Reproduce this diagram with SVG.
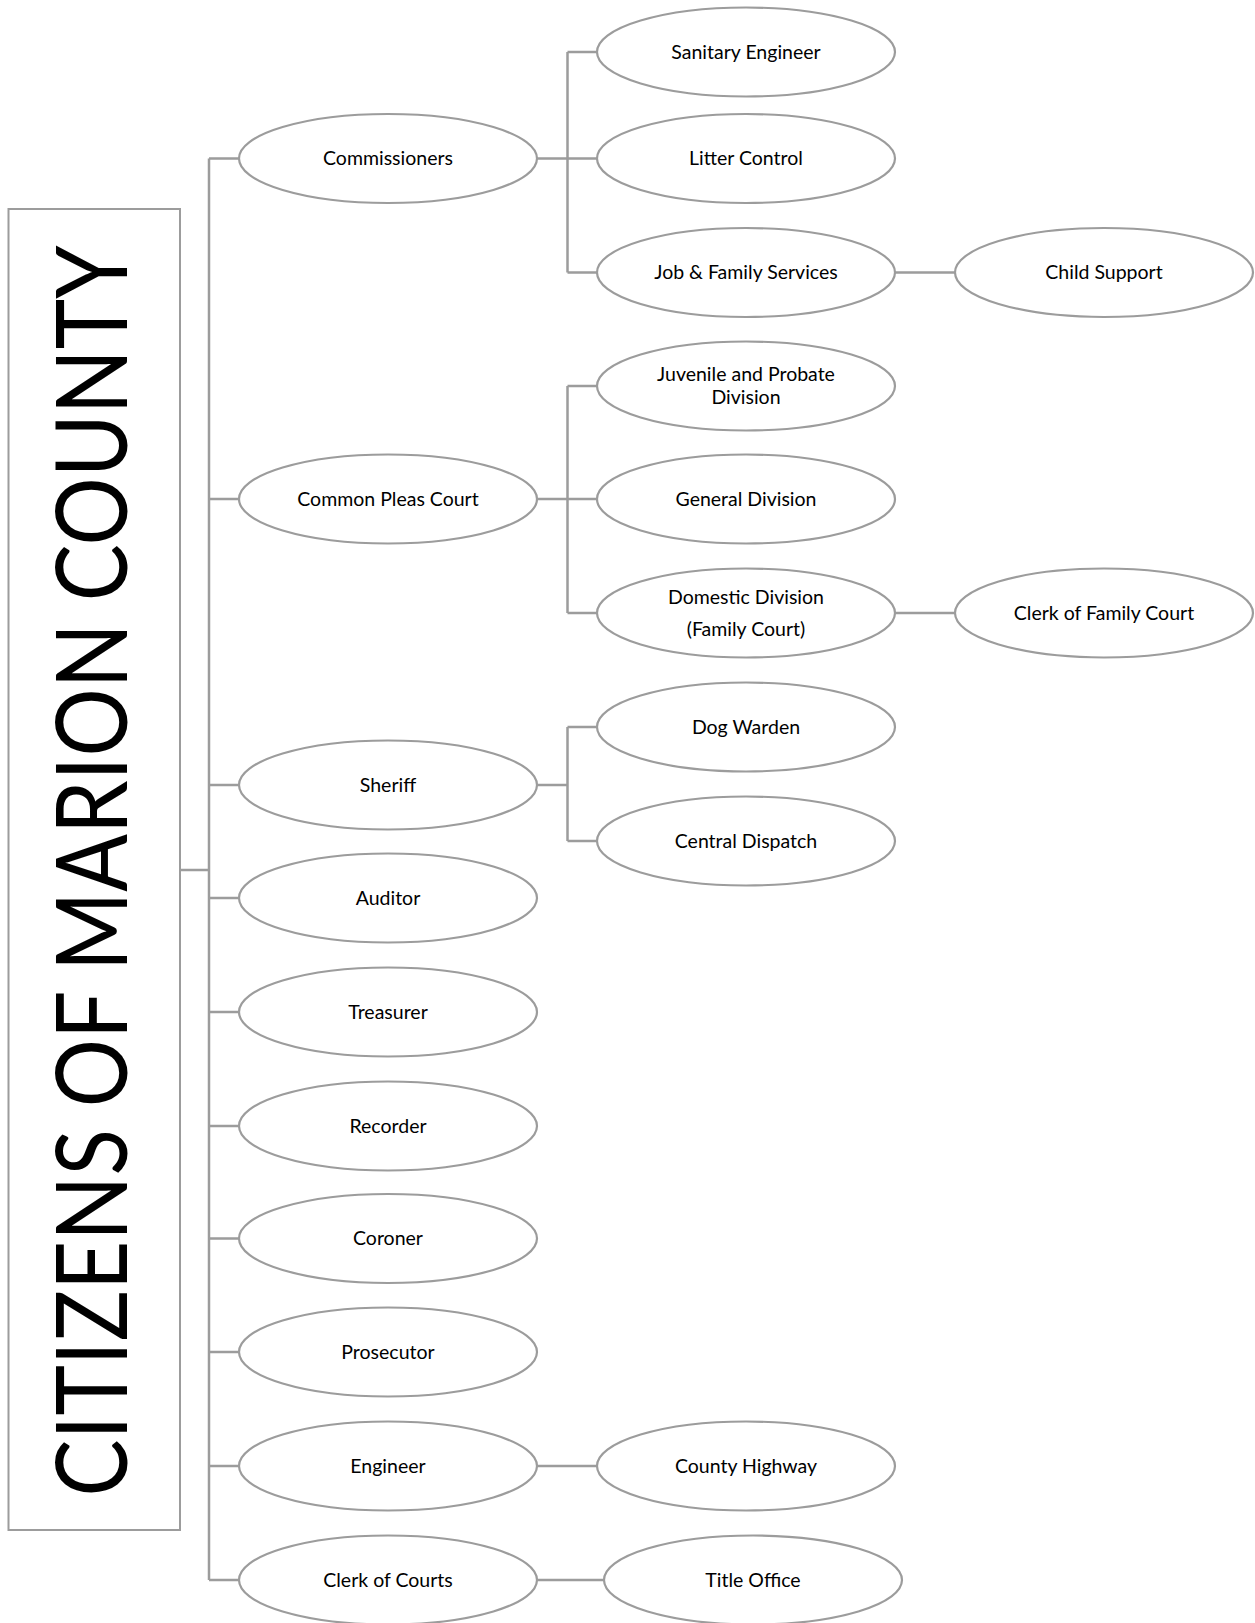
<svg xmlns="http://www.w3.org/2000/svg" width="1255" height="1623" viewBox="0 0 1255 1623">
<style>
.n ellipse{fill:#fff;stroke:#9c9c9c;stroke-width:2.2}
.n text{font-family:Lato,"Open Sans",sans-serif;font-size:19.5px;fill:#000;text-anchor:middle}
.c{fill:none;stroke:#9c9c9c;stroke-width:2.5}
</style>
<rect width="1255" height="1623" fill="#fff"/>
<g id="connectors" class="c">
<path d="M180,870 H209 M209,158.5 V1580"/>
<path d="M209,158.5 H239 M209,499 H239 M209,785 H239 M209,898 H239 M209,1012 H239 M209,1126 H239 M209,1238.5 H239 M209,1352 H239 M209,1466 H239 M209,1580 H239"/>
<path d="M537,158.5 H597 M567.5,52 V272.5 M567.5,52 H597 M567.5,272.5 H597"/>
<path d="M537,499 H597 M567.5,386 V613 M567.5,386 H597 M567.5,613 H597"/>
<path d="M537,785 H567.5 M567.5,727 V841 M567.5,727 H597 M567.5,841 H597"/>
<path d="M895,272.5 H955 M895,613 H955"/>
<path d="M537,1466 H597 M537,1580 H604"/>
</g>
<g id="citizens">
<rect x="8.5" y="209" width="171.5" height="1321" fill="#fff" stroke="#9c9c9c" stroke-width="2"/>
<text x="127" y="871" transform="rotate(-90 127 871)" font-family="Lato, Open Sans, sans-serif" font-size="98" text-anchor="middle" textLength="1251" lengthAdjust="spacingAndGlyphs">CITIZENS OF MARION COUNTY</text>
</g>
<g id="commissioners" class="n"><ellipse cx="388" cy="158.5" rx="149" ry="44.5"/><text x="388" y="158.5" dy="0.35em">Commissioners</text></g>
<g id="common-pleas" class="n"><ellipse cx="388" cy="499" rx="149" ry="44.5"/><text x="388" y="499" dy="0.35em">Common Pleas Court</text></g>
<g id="sheriff" class="n"><ellipse cx="388" cy="785" rx="149" ry="44.5"/><text x="388" y="785" dy="0.35em">Sheriff</text></g>
<g id="auditor" class="n"><ellipse cx="388" cy="898" rx="149" ry="44.5"/><text x="388" y="898" dy="0.35em">Auditor</text></g>
<g id="treasurer" class="n"><ellipse cx="388" cy="1012" rx="149" ry="44.5"/><text x="388" y="1012" dy="0.35em">Treasurer</text></g>
<g id="recorder" class="n"><ellipse cx="388" cy="1126" rx="149" ry="44.5"/><text x="388" y="1126" dy="0.35em">Recorder</text></g>
<g id="coroner" class="n"><ellipse cx="388" cy="1238.5" rx="149" ry="44.5"/><text x="388" y="1238.5" dy="0.35em">Coroner</text></g>
<g id="prosecutor" class="n"><ellipse cx="388" cy="1352" rx="149" ry="44.5"/><text x="388" y="1352" dy="0.35em">Prosecutor</text></g>
<g id="engineer" class="n"><ellipse cx="388" cy="1466" rx="149" ry="44.5"/><text x="388" y="1466" dy="0.35em">Engineer</text></g>
<g id="clerk-of-courts" class="n"><ellipse cx="388" cy="1580" rx="149" ry="44.5"/><text x="388" y="1580" dy="0.35em">Clerk of Courts</text></g>
<g id="sanitary-engineer" class="n"><ellipse cx="746" cy="52" rx="149" ry="44.5"/><text x="746" y="52" dy="0.35em">Sanitary Engineer</text></g>
<g id="litter-control" class="n"><ellipse cx="746" cy="158.5" rx="149" ry="44.5"/><text x="746" y="158.5" dy="0.35em">Litter Control</text></g>
<g id="job-family" class="n"><ellipse cx="746" cy="272.5" rx="149" ry="44.5"/><text x="746" y="272.5" dy="0.35em">Job &amp; Family Services</text></g>
<g id="child-support" class="n"><ellipse cx="1104" cy="272.5" rx="149" ry="44.5"/><text x="1104" y="272.5" dy="0.35em">Child Support</text></g>
<g id="juvenile-probate" class="n"><ellipse cx="746" cy="386" rx="149" ry="44.5"/><text x="746" y="374" dy="0.35em">Juvenile and Probate</text><text x="746" y="397" dy="0.35em">Division</text></g>
<g id="general-division" class="n"><ellipse cx="746" cy="499" rx="149" ry="44.5"/><text x="746" y="499" dy="0.35em">General Division</text></g>
<g id="domestic-division" class="n"><ellipse cx="746" cy="613" rx="149" ry="44.5"/><text x="746" y="597.5" dy="0.35em">Domestic Division</text><text x="746" y="629.5" dy="0.35em">(Family Court)</text></g>
<g id="clerk-family-court" class="n"><ellipse cx="1104" cy="613" rx="149" ry="44.5"/><text x="1104" y="613" dy="0.35em">Clerk of Family Court</text></g>
<g id="dog-warden" class="n"><ellipse cx="746" cy="727" rx="149" ry="44.5"/><text x="746" y="727" dy="0.35em">Dog Warden</text></g>
<g id="central-dispatch" class="n"><ellipse cx="746" cy="841" rx="149" ry="44.5"/><text x="746" y="841" dy="0.35em">Central Dispatch</text></g>
<g id="county-highway" class="n"><ellipse cx="746" cy="1466" rx="149" ry="44.5"/><text x="746" y="1466" dy="0.35em">County Highway</text></g>
<g id="title-office" class="n"><ellipse cx="753" cy="1580" rx="149" ry="44.5"/><text x="753" y="1580" dy="0.35em">Title Office</text></g>
</svg>
